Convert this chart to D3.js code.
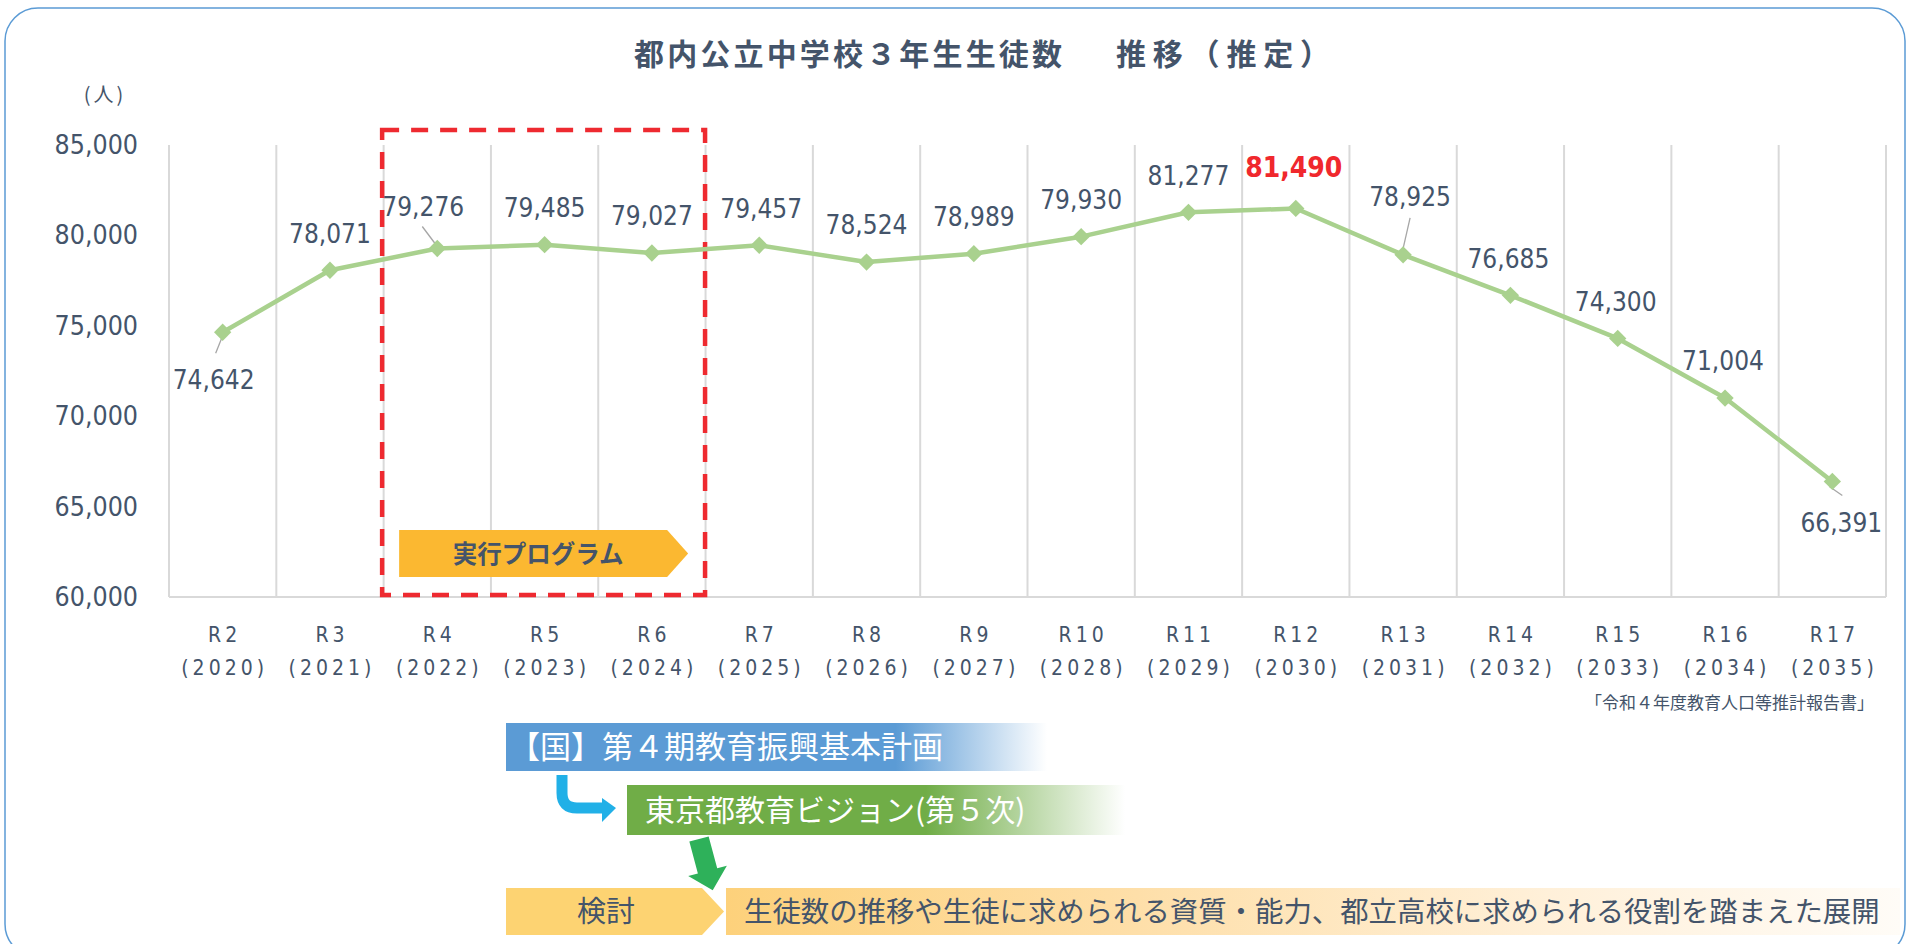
<!DOCTYPE html>
<html lang="ja">
<head>
<meta charset="utf-8">
<script src="https://cdn.jsdelivr.net/npm/d3@7"></script>
<style>
    html, body { margin: 0; padding: 0; background: #fff; }
    svg { display: block; }
</style>
</head>
<body>
<div id="chart"></div>
<script>
// 年度（和暦・西暦）
const categories = ["R2", "R3", "R4", "R5", "R6", "R7", "R8", "R9", "R10", "R11", "R12", "R13", "R14", "R15", "R16", "R17"];
const years = ["(2020)", "(2021)", "(2022)", "(2023)", "(2024)", "(2025)", "(2026)", "(2027)", "(2028)", "(2029)", "(2030)", "(2031)", "(2032)", "(2033)", "(2034)", "(2035)"];
// 都内公立中学校3年生 生徒数（人）
const students = [74642, 78071, 79276, 79485, 79027, 79457, 78524, 78989, 79930, 81277, 81490, 78925, 76685, 74300, 71004, 66391];
const yTicks = [60000, 65000, 70000, 75000, 80000, 85000];
const peakIndex = 10;
const programYears = ["R4", "R6"];

// ラベル位置（点からのずれ）
const labelOffsets = [
    [-9, 47], [0, -37], [-14, -42], [0, -37], [0, -37], [2, -37], [0, -37], [0, -37],
    [0, -37], [0, -37], [-2, -42], [7, -58], [-2, -37], [-2, -37], [-2, -37], [9, 41]
];
// 引き出し線
const leaders = {
    0: [[-7, 21], [1, 1]],
    2: [[-15, -22], [0, -2]],
    11: [[7, -37], [-1, -2]],
    15: [[-3, 5], [10, 14]]
};

const COLORS = {
    text: "#44546a",
    grid: "#d9d9d9",
    line: "#a9d18e",
    peak: "#f0282d",
    frame: "#5b9bd5"
};

const NUM_FONT = "'DejaVu Sans Condensed', 'DejaVu Sans', sans-serif";
const JP_FONT = "'Noto Sans CJK JP', 'Noto Sans', sans-serif";

const W = 1910, H = 944;
const plot = { left: 169, right: 1886, top: 145, bottom: 597 };

const svg = d3.select("#chart").append("svg")
    .attr("width", W)
    .attr("height", H);

// 外枠
svg.append("rect")
    .attr("x", 5).attr("y", 8)
    .attr("width", 1900).attr("height", 949)
    .attr("rx", 33)
    .attr("fill", "#fff")
    .attr("stroke", COLORS.frame)
    .attr("stroke-width", 1.5);

// タイトル（2つに分けて幅を合わせる）
const titleParts = [
    { text: "都内公立中学校３年生生徒数", x: 634, len: 428 },
    { text: "推移（推定）", x: 1116, len: 214 }
];
svg.append("g")
    .selectAll("text")
    .data(titleParts)
    .join("text")
    .attr("x", d => d.x).attr("y", 65)
    .attr("textLength", d => d.len)
    .attr("lengthAdjust", "spacing")
    .style("font-family", JP_FONT)
    .style("font-weight", 700)
    .style("font-size", "30px")
    .attr("fill", COLORS.text)
    .text(d => d.text);

svg.append("text")
    .attr("x", 105).attr("y", 102)
    .attr("text-anchor", "middle")
    .style("font-family", JP_FONT)
    .style("font-size", "20px")
    .style("letter-spacing", "3px")
    .attr("fill", COLORS.text)
    .text("(人)");

const x = d3.scaleBand()
    .domain(categories)
    .range([plot.left, plot.right])
    .padding(0);

const y = d3.scaleLinear()
    .domain([60000, 85000])
    .range([plot.bottom, plot.top]);

const cx = i => x(categories[i]) + x.bandwidth() / 2;

// 縦の目盛線
const edges = categories.map(c => x(c)).concat([plot.right]);
svg.append("g")
    .selectAll("line")
    .data(edges)
    .join("line")
    .attr("x1", d => d).attr("x2", d => d)
    .attr("y1", plot.top).attr("y2", plot.bottom)
    .attr("stroke", COLORS.grid)
    .attr("stroke-width", 2);

// 横軸線
svg.append("line")
    .attr("x1", plot.left).attr("x2", plot.right)
    .attr("y1", plot.bottom).attr("y2", plot.bottom)
    .attr("stroke", COLORS.grid)
    .attr("stroke-width", 2);

// Y軸
const yAxis = svg.append("g")
    .attr("transform", `translate(${plot.left},0)`)
    .call(d3.axisLeft(y).tickValues(yTicks).tickSize(0).tickPadding(31).tickFormat(d3.format(",")));
yAxis.select(".domain").remove();
yAxis.selectAll("text")
    .style("font-family", NUM_FONT)
    .style("font-size", "26.5px")
    .attr("fill", COLORS.text);

// X軸
const xAxis = svg.append("g")
    .attr("transform", `translate(0,${plot.bottom})`)
    .call(d3.axisBottom(x).tickSize(0).tickFormat(""));
xAxis.select(".domain").remove();
xAxis.selectAll(".tick").each(function (d, i) {
    const t = d3.select(this).append("text")
        .attr("text-anchor", "middle")
        .style("font-family", NUM_FONT)
        .style("font-size", "21px")
        .style("letter-spacing", "4px")
        .attr("fill", COLORS.text);
    t.append("tspan").attr("x", 2).attr("y", 45).text(d);
    t.append("tspan").attr("x", 2).attr("y", 78).text(years[i]);
});

// 出典
svg.append("text")
    .attr("x", 1874).attr("y", 709)
    .attr("text-anchor", "end")
    .style("font-family", JP_FONT)
    .style("font-size", "17px")
    .attr("fill", COLORS.text)
    .text("「令和４年度教育人口等推計報告書」");

// 実行プログラム期間の枠
const boxLeft = x(programYears[0]) - 1.5;
const boxRight = x(programYears[1]) + x.bandwidth() - 0.5;
svg.append("rect")
    .attr("x", boxLeft).attr("y", 130)
    .attr("width", boxRight - boxLeft)
    .attr("height", plot.bottom - 2 - 130)
    .attr("fill", "none")
    .attr("stroke", "#ee2a30")
    .attr("stroke-width", 4.5)
    .attr("stroke-dasharray", "17 12");

const bx = boxLeft + 17;
svg.append("path")
    .attr("d", `M${bx},530 H${bx + 268} L${bx + 289},553.5 L${bx + 268},577 H${bx} Z`)
    .attr("fill", "#fbb831");
svg.append("text")
    .attr("x", bx + 139).attr("y", 554)
    .attr("dy", "0.35em")
    .attr("text-anchor", "middle")
    .style("font-family", JP_FONT)
    .style("font-weight", 700)
    .style("font-size", "24.5px")
    .attr("fill", COLORS.text)
    .text("実行プログラム");

// 折れ線
const line = d3.line()
    .x((d, i) => cx(i))
    .y(d => y(d));

svg.append("path")
    .datum(students)
    .attr("d", line)
    .attr("fill", "none")
    .attr("stroke", COLORS.line)
    .attr("stroke-width", 4.5)
    .attr("stroke-linejoin", "round");

// 引き出し線
svg.append("g")
    .selectAll("line")
    .data(Object.keys(leaders).map(Number))
    .join("line")
    .attr("x1", i => cx(i) + leaders[i][0][0])
    .attr("y1", i => y(students[i]) + leaders[i][0][1])
    .attr("x2", i => cx(i) + leaders[i][1][0])
    .attr("y2", i => y(students[i]) + leaders[i][1][1])
    .attr("stroke", "#a6a6a6")
    .attr("stroke-width", 1.3);

// マーカー（ひし形）
svg.append("g")
    .selectAll("path")
    .data(students)
    .join("path")
    .attr("d", d3.symbol(d3.symbolSquare, 150))
    .attr("transform", (d, i) => `translate(${cx(i)},${y(d)}) rotate(45)`)
    .attr("fill", COLORS.line);

// データラベル
svg.append("g")
    .selectAll("text")
    .data(students)
    .join("text")
    .attr("x", (d, i) => cx(i) + labelOffsets[i][0])
    .attr("y", (d, i) => y(d) + labelOffsets[i][1])
    .attr("dy", "0.36em")
    .attr("text-anchor", "middle")
    .style("font-family", NUM_FONT)
    .style("font-size", (d, i) => i === peakIndex ? "28px" : "26px")
    .style("font-weight", (d, i) => i === peakIndex ? 700 : 400)
    .attr("fill", (d, i) => i === peakIndex ? COLORS.peak : COLORS.text)
    .text(d => d3.format(",")(d));

// 下部の計画の流れ
const defs = svg.append("defs");
function fade(id, stops) {
    const g = defs.append("linearGradient").attr("id", id)
        .attr("x1", "0%").attr("x2", "100%").attr("y1", "0%").attr("y2", "0%");
    stops.forEach(s => g.append("stop").attr("offset", s[0]).attr("stop-color", s[1]).attr("stop-opacity", s[2] ?? 1));
}
fade("gBlue", [[0, "#5b9bd5"], [0.72, "#5b9bd5"], [1, "#5b9bd5", 0]]);
fade("gGreen", [[0, "#70ad47"], [0.6, "#70ad47"], [1, "#70ad47", 0]]);
fade("gOrange", [[0, "#fdd17b"], [0.35, "#fedfa9"], [0.7, "#fff0d9"], [1, "#fffcf7"]]);

svg.append("rect")
    .attr("x", 506).attr("y", 723).attr("width", 541).attr("height", 48)
    .attr("fill", "url(#gBlue)");
svg.append("text")
    .attr("x", 509).attr("y", 747).attr("dy", "0.36em")
    .style("font-family", JP_FONT)
    .style("font-size", "31px")
    .attr("fill", "#fff")
    .text("【国】第４期教育振興基本計画");

svg.append("path")
    .attr("d", "M562,775 V793 Q562,808 577,808 H604")
    .attr("fill", "none")
    .attr("stroke", "#21b0e7")
    .attr("stroke-width", 11);
svg.append("path")
    .attr("d", "M602,798 L616,808 L602,822 Z")
    .attr("fill", "#21b0e7");

svg.append("rect")
    .attr("x", 627).attr("y", 785).attr("width", 498).attr("height", 50)
    .attr("fill", "url(#gGreen)");
svg.append("text")
    .attr("x", 645).attr("y", 810).attr("dy", "0.36em")
    .style("font-family", JP_FONT)
    .style("font-size", "30px")
    .attr("fill", "#fff")
    .text("東京都教育ビジョン(第５次)");

svg.append("path")
    .attr("d", "M-10,0 H10 V33 H20 L0,53 L-20,33 H-10 Z")
    .attr("transform", "translate(699,839) rotate(-15)")
    .attr("fill", "#2eb15a");

svg.append("path")
    .attr("d", "M506,888 H702 L724,911.5 L702,935 H506 Z")
    .attr("fill", "#fdd372");
svg.append("text")
    .attr("x", 606).attr("y", 912).attr("dy", "0.36em")
    .attr("text-anchor", "middle")
    .style("font-family", JP_FONT)
    .style("font-size", "29px")
    .attr("fill", COLORS.text)
    .text("検討");

svg.append("rect")
    .attr("x", 726).attr("y", 888).attr("width", 1174).attr("height", 47)
    .attr("fill", "url(#gOrange)");
svg.append("text")
    .attr("x", 744).attr("y", 912).attr("dy", "0.36em")
    .style("font-family", JP_FONT)
    .style("font-size", "28.4px")
    .attr("fill", COLORS.text)
    .text("生徒数の推移や生徒に求められる資質・能力、都立高校に求められる役割を踏まえた展開");
</script>
</body>
</html>
